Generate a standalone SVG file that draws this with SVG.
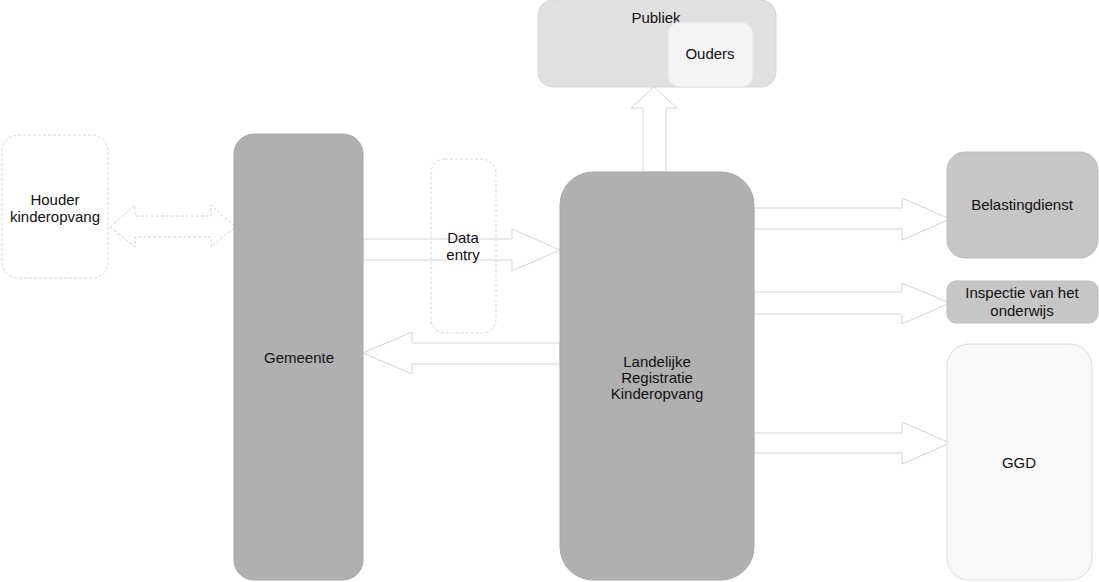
<svg xmlns="http://www.w3.org/2000/svg" width="1099" height="582" viewBox="0 0 1099 582">
<style>
text{font-family:"Liberation Sans",Arial,sans-serif;font-size:15px;fill:#111;text-anchor:middle}
.arrow{fill:#fff;stroke:#d4d4d4;stroke-width:1}
.dash{stroke-dasharray:3 2}
.dark{fill:#b0b0b0;stroke:#a8a8a8}
.mid{fill:#c6c6c6;stroke:#bdbdbd}
.ghost{fill:none;stroke:#d8d8d8;stroke-dasharray:3 2}
</style>
<rect width="1099" height="582" fill="#fff"/>
<g id="connectors">
<path class="arrow dash" d="M110,227 L135,205 L135,216 L211,216 L211,205 L235,227 L211,247 L211,237 L135,237 L135,247 Z"/>
<path class="arrow" d="M363,239 L512,239 L512,229 L560,250 L512,271 L512,260 L363,260 Z"/>
<path class="arrow" d="M560,343 L412,343 L412,332 L363,353 L412,374 L412,364 L560,364 Z"/>
<path class="arrow" d="M643,172 L643,108 L631,108 L654,87 L677,108 L666,108 L666,172 Z"/>
<path class="arrow" d="M754,208 L902,208 L902,198 L950,219 L902,240 L902,229 L754,229 Z"/>
<path class="arrow" d="M754,292 L902,292 L902,283 L950,303 L902,324 L902,314 L754,314 Z"/>
<path class="arrow" d="M754,433 L902,433 L902,422 L950,443 L902,464 L902,453 L754,453 Z"/>
</g>
<g id="houder">
<rect class="ghost" x="2" y="135" width="106" height="143" rx="16"/>
<text x="55" y="205">Houder</text>
<text x="55" y="222">kinderopvang</text>
</g>
<g id="data-entry">
<rect class="ghost" x="431" y="159" width="65" height="174" rx="14"/>
<text x="463" y="243">Data</text>
<text x="463" y="260">entry</text>
</g>
<g id="gemeente">
<rect class="dark" x="234" y="134" width="129" height="446" rx="20"/>
<text x="299" y="363">Gemeente</text>
</g>
<g id="lrk">
<rect class="dark" x="560" y="172" width="194" height="408" rx="33"/>
<text x="657" y="367">Landelijke</text>
<text x="657" y="383">Registratie</text>
<text x="657" y="399">Kinderopvang</text>
</g>
<g id="publiek">
<rect x="538" y="0" width="238" height="87" rx="15" fill="#e0e0e0" stroke="#d6d6d6"/>
<text x="656" y="23">Publiek</text>
</g>
<g id="ouders">
<rect x="668" y="22" width="85" height="65" rx="12" fill="#f3f3f3" stroke="#e6e6e6"/>
<text x="710" y="59">Ouders</text>
</g>
<g id="belastingdienst">
<rect class="mid" x="947" y="152" width="151" height="106" rx="18"/>
<text x="1022" y="210">Belastingdienst</text>
</g>
<g id="inspectie">
<rect class="mid" x="947" y="281" width="151" height="42" rx="9"/>
<text x="1022" y="298">Inspectie van het</text>
<text x="1022" y="316">onderwijs</text>
</g>
<g id="ggd">
<rect x="947" y="344" width="145" height="236" rx="22" fill="#f8f8f8" stroke="#dcdcdc"/>
<text x="1019" y="468">GGD</text>
</g>
</svg>
